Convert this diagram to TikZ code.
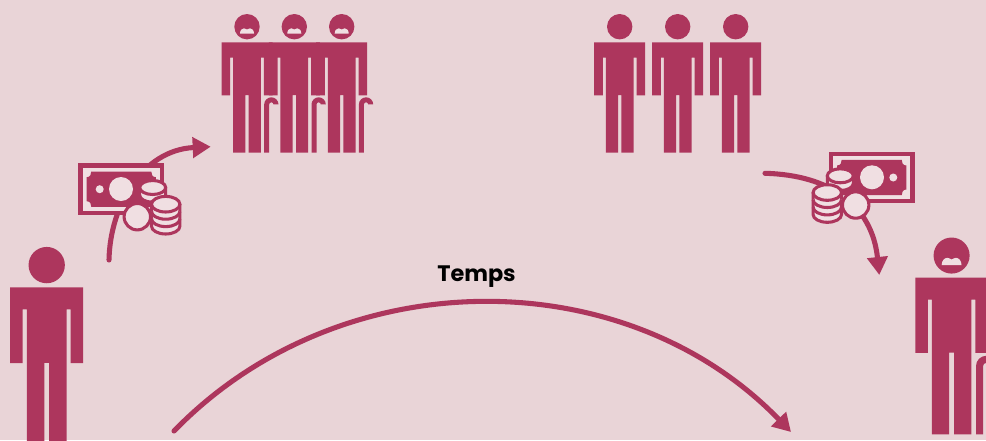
\documentclass[tikz,border=0pt]{standalone}
\usepackage{fontspec}
\setmainfont{Poppins}
\usetikzlibrary{arrows.meta}
\definecolor{fond}{HTML}{E9D4D7}
\definecolor{framboise}{HTML}{AD365D}
\definecolor{clair}{HTML}{F0DFE2}
% Silhouette debout : origine au milieu des épaules
\newcommand{\silhouette}{%
    \fill[framboise] (0,-15.6) circle[radius=12.7];
    \fill[framboise] (-25.5,0) -- (25.5,0) -- (25.5,53) -- (16.8,53) -- (16.8,15.4) -- (13.85,15.4) -- (13.85,110.4) -- (1.7,110.4) -- (1.7,52.7) -- (-1.7,52.7) -- (-1.7,110.4) -- (-13.85,110.4) -- (-13.85,15.4) -- (-16.8,15.4) -- (-16.8,53) -- (-25.5,53) -- cycle;
}

\begin{document}
\begin{tikzpicture}[
    x=0.75pt, y=-0.75pt,
    % Styles des flèches et des pièces
    fleche/.style={draw=framboise, line width=3.8pt, line cap=round, -{Triangle[length=13.5pt, width=15pt]}},
    piece/.style={draw=framboise, line width=2.3pt, fill=clair},
    titre/.style={font=\bfseries\fontsize{16.8}{20}\selectfont, text=black, inner sep=0pt},
    personne/.pic={\silhouette},
    % Personne âgée : moustache et canne en plus
    vieux/.pic={
        \silhouette
        \fill[clair] (-7,-8.8) .. controls (-7,-12.1) and (-5,-14) .. (-3,-14) .. controls (-1.5,-14) and (-0.8,-13) .. (0,-12.8) .. controls (0.8,-13) and (1.5,-14) .. (3,-14) .. controls (5,-14) and (7,-12.1) .. (7,-8.8) -- cycle;
        \fill[framboise] (17.2,110.4) -- (17.2,62.15) arc[start angle=180, end angle=360, radius=7.15] -- (26.5,62.15) arc[start angle=360, end angle=180, radius=2.15] -- (22.2,110.4) -- cycle;
    },
    % Billet et piles de pièces : origine au centre du billet
    argent/.pic={
        \fill[framboise] (-43,-25.85) rectangle (43,25.85);
        \fill[clair] (-38.5,-21.3) rectangle (38.5,21.3);
        \fill[framboise] (-30,-17.7) -- (30,-17.7) .. controls (30,-15) and (31,-12) .. (34.6,-12) -- (34.6,12) .. controls (31,12) and (30,15) .. (30,17.7) -- (-30,17.7) .. controls (-30,15) and (-31,12) .. (-34.6,12) -- (-34.6,-12) .. controls (-31,-12) and (-30,-15) .. (-30,-17.7) -- cycle;
        \fill[clair] (-0.3,-0.2) circle[radius=12];
        \fill[clair] (-21.6,0) circle[radius=4];
        % Petite pile
        \draw[piece] (18.4,-1.7) -- (18.4,6) arc[start angle=180, end angle=0, x radius=13, y radius=7] -- (44.4,-1.7);
        \draw[piece] (31.4,-1.7) ellipse[x radius=13, y radius=7];
        % Grande pile
        \draw[piece] (30.2,15) -- (30.2,37) arc[start angle=180, end angle=0, x radius=14.2, y radius=7.8] -- (58.6,15);
        \draw[piece] (30.2,29.6) arc[start angle=180, end angle=0, x radius=14.2, y radius=7.8];
        \draw[piece] (30.2,22.2) arc[start angle=180, end angle=0, x radius=14.2, y radius=7.8];
        \draw[piece] (44.4,15) ellipse[x radius=14.2, y radius=7.8];
        % Pièce seule
        \draw[piece] (16,27.5) circle[radius=13.2];
    }
    ]

    \useasboundingbox (0,0) rectangle (986,440);
    \clip (0,0) rectangle (986,440);
    \fill[fond] (0,0) rectangle (986,440);

    % Extrémités des flèches
    \coordinate (departVers) at (109,260);
    \coordinate (arriveeVers) at (210.7,146.7);
    \coordinate (departDe) at (765,173.3);
    \coordinate (arriveeDe) at (879.3,275);
    \coordinate (debutTemps) at (174,431);
    \coordinate (finTemps) at (791,432);

    % Flèches
    \draw[fleche] (departVers) .. controls (110,205) and (143,150) .. (arriveeVers);
    \draw[fleche] (departDe) .. controls (830,175) and (872,205) .. (arriveeDe);
    \draw[fleche] (debutTemps) .. controls (340,260) and (625,260) .. (finTemps);

    % Argent
    \pic (argentVers) at (121.3,189.2) {argent};
    \pic[xscale=-1] (argentDe) at (871.7,177.5) {argent};

    % Jeune à gauche, vieux à droite
    \pic[scale=1.43] (jeune) at (46.7,287.4) {personne};
    \pic[scale=1.42] (retraite) at (951.6,277.7) {vieux};

    % Groupe de retraités
    \pic (vieuxA) at (247,42.3) {vieux};
    \pic (vieuxB) at (294.3,42.3) {vieux};
    \pic (vieuxC) at (341.7,42.3) {vieux};

    % Groupe d'actifs
    \pic (actifA) at (619.7,42.3) {personne};
    \pic (actifB) at (677.7,42.3) {personne};
    \pic (actifC) at (735.7,42.3) {personne};

    % Temps
    \node[titre, anchor=base] (temps) at (476.5,281.5) {Temps};

\end{tikzpicture}
\end{document}
